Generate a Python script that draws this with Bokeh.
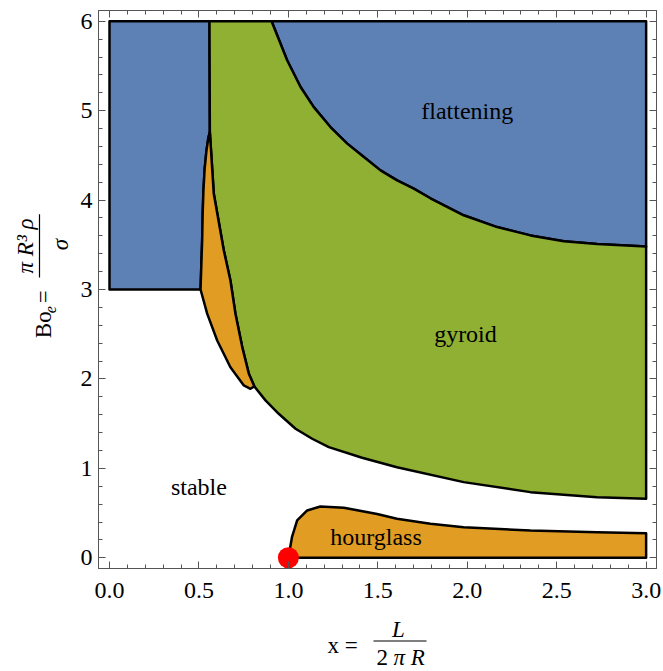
import numpy as np
from bokeh.plotting import figure
from bokeh.layouts import column, row
from bokeh.models import (Range1d, LinearAxis, FixedTicker, PrintfTickFormatter,
                          CustomJSTickFormatter)
from bokeh.core.properties import value
from bokeh.embed import file_html
from bokeh.resources import INLINE

# ---------------- data ----------------
# left edge of the orange sliver (boundary with the left blue block), bottom -> tip
sliver_left_x = [0.509, 0.513, 0.518, 0.521, 0.525, 0.532, 0.542, 0.553, 0.561]
sliver_left_y = [3.00, 3.25, 3.55, 3.85, 4.10, 4.35, 4.55, 4.70, 4.76]
# right edge of the sliver (boundary with gyroid), tip -> junction
sliver_right_x = [0.561, 0.583, 0.639, 0.676, 0.704, 0.742, 0.779, 0.810]
sliver_right_y = [4.76, 4.07, 3.437, 3.10, 2.73, 2.356, 2.058, 1.916]
# lower edge of the sliver (boundary with stable), (0.509,3) -> junction
sliver_bottom_x = [0.509, 0.546, 0.602, 0.676, 0.751, 0.788, 0.810]
sliver_bottom_y = [3.00, 2.73, 2.43, 2.13, 1.927, 1.89, 1.916]
# vertical wall between left blue block and gyroid
wall_x = [0.559, 0.561]
wall_y = [6.0, 4.76]
# gyroid / flattening boundary
gyroid_upper_x = [0.906, 0.993, 1.068, 1.142, 1.235, 1.329, 1.422, 1.515, 1.608,
                  1.701, 1.794, 1.98, 2.167, 2.353, 2.54, 2.726, 3.0]
gyroid_upper_y = [6.0, 5.563, 5.264, 5.040, 4.817, 4.631, 4.481, 4.332, 4.220,
                  4.128, 4.02, 3.83, 3.698, 3.605, 3.54, 3.51, 3.48]
# gyroid / stable boundary
gyroid_lower_x = [0.810, 0.872, 0.946, 1.04, 1.133, 1.226, 1.412, 1.607, 1.98,
                  2.353, 2.726, 3.0]
gyroid_lower_y = [1.916, 1.76, 1.61, 1.443, 1.331, 1.237, 1.119, 1.013, 0.846,
                  0.734, 0.678, 0.66]
# hourglass upper boundary
hourglass_x = [1.0, 1.02, 1.049, 1.105, 1.179, 1.31, 1.496, 1.607, 1.794, 1.98,
               2.353, 2.726, 3.0]
hourglass_y = [0.0, 0.23, 0.417, 0.529, 0.574, 0.56, 0.49, 0.436, 0.38, 0.342,
               0.305, 0.286, 0.275]
# domain limits
x_min, x_max = 0.0, 3.0
y_blue_bottom, y_top = 3.0, 6.0
# critical point
crit_x = [1.0]
crit_y = [0.0]
# region names (baseline positions)
region_names = ["flattening", "gyroid", "stable", "hourglass"]
region_x = [2.0, 1.99, 0.50, 1.49]
region_y = [4.91, 2.41, 0.70, 0.14]
# ticks
x_major = [0.0, 0.5, 1.0, 1.5, 2.0, 2.5, 3.0]
x_minor = [round(0.1 * i, 1) for i in range(-1, 32)]
y_major = [0, 1, 2, 3, 4, 5, 6]
y_minor = [round(0.2 * i, 1) for i in range(-1, 32)]

BLUE = "#5E81B5"
GREEN = "#8FB032"
ORANGE = "#E19C24"
FONT = "Liberation Serif"
FRAME = "#555555"

# ---------------- main plot ----------------
p = figure(width=591, height=608, output_backend="svg", toolbar_location=None,
           x_range=Range1d(-0.0615, 3.058), y_range=Range1d(-0.12, 6.12),
           x_axis_location=None, y_axis_location=None)
p.min_border_left = 26
p.min_border_right = 7
p.min_border_top = 10
p.min_border_bottom = 40
p.grid.visible = False
p.outline_line_color = FRAME
p.background_fill_color = "white"
p.border_fill_color = "white"


def style_axis(ax, labels):
    ax.axis_line_color = FRAME
    ax.major_tick_line_color = FRAME
    ax.minor_tick_line_color = FRAME
    ax.major_tick_in = 7
    ax.major_tick_out = 0
    ax.minor_tick_in = 4
    ax.minor_tick_out = 0
    if labels:
        ax.major_label_text_font = FONT
        ax.major_label_text_font_size = "24px"
        ax.major_label_text_color = "black"
    else:
        ax.formatter = CustomJSTickFormatter(code="return ''")
        ax.major_label_text_font_size = "0px"
        ax.major_label_standoff = 0


bx = LinearAxis(ticker=FixedTicker(ticks=x_major, minor_ticks=x_minor),
                formatter=PrintfTickFormatter(format="%.1f"))
style_axis(bx, True)
bx.major_label_standoff = 14
p.add_layout(bx, "below")
ly = LinearAxis(ticker=FixedTicker(ticks=y_major, minor_ticks=y_minor),
                formatter=PrintfTickFormatter(format="%d"))
style_axis(ly, True)
ly.major_label_standoff = 6
p.add_layout(ly, "left")
tx = LinearAxis(ticker=FixedTicker(ticks=x_major, minor_ticks=x_minor))
style_axis(tx, False)
p.add_layout(tx, "above")
ry = LinearAxis(ticker=FixedTicker(ticks=y_major, minor_ticks=y_minor))
style_axis(ry, False)
p.add_layout(ry, "right")

line_kw = dict(line_color="black", line_width=2.5, line_join="round")

# left blue block
lb_x = [x_min, x_min] + wall_x + sliver_left_x[::-1]
lb_y = [y_blue_bottom, y_top] + wall_y + sliver_left_y[::-1]
p.patch(lb_x, lb_y, fill_color=BLUE, **line_kw)

# right blue (flattening) block
rb_x = gyroid_upper_x + [x_max]
rb_y = gyroid_upper_y + [y_top]
p.patch(rb_x, rb_y, fill_color=BLUE, **line_kw)

# gyroid
g_x = wall_x[:1] + gyroid_upper_x + gyroid_lower_x[::-1] + sliver_right_x[::-1]
g_y = wall_y[:1] + gyroid_upper_y + gyroid_lower_y[::-1] + sliver_right_y[::-1]
p.patch(g_x, g_y, fill_color=GREEN, **line_kw)

# orange sliver
s_x = sliver_left_x + sliver_right_x[1:] + sliver_bottom_x[::-1][1:]
s_y = sliver_left_y + sliver_right_y[1:] + sliver_bottom_y[::-1][1:]
p.patch(s_x, s_y, fill_color=ORANGE, **line_kw)

# hourglass
h_x = hourglass_x + [x_max]
h_y = hourglass_y + [0.0]
p.patch(h_x, h_y, fill_color=ORANGE, **line_kw)

# critical point
p.scatter(crit_x, crit_y, size=21, fill_color="red", line_color=None)

# region names: middle of text sits 8 px above the read baseline
p.text(region_x, region_y, text=region_names, text_font=value(FONT),
       text_font_size="24px", text_align="center", text_baseline="middle",
       y_offset=-8, text_color="black")


# ---------------- axis-label panels (coordinates = page pixels) ----------------
def blank_fig(w, h, xr, yr):
    f = figure(width=w, height=h, output_backend="svg", toolbar_location=None,
               x_range=Range1d(*xr), y_range=Range1d(*yr),
               x_axis_location=None, y_axis_location=None)
    f.min_border = 0
    f.grid.visible = False
    f.outline_line_color = None
    f.background_fill_color = "white"
    f.border_fill_color = "white"
    return f


def txt(f, x, y, s, angle=0.0, align="left", size="23px", style="normal"):
    f.text([x], [y], text=[s], angle=angle, text_align=align,
           text_baseline="middle", text_font=value(FONT),
           text_font_size=size, text_font_style=style, text_color="black")


# y label panel: page x 0..72, page y 0..608 (y stored as -page_y)
yl = blank_fig(72, 608, (0, 72), (-608, 0))
a = np.pi / 2
txt(yl, 42.5, -357, "Bo", angle=a)
txt(yl, 49.5, -330, "e", angle=a, size="16px", style="italic")
txt(yl, 42.5, -319, "=", angle=a)
txt(yl, 24.5, -256.5, "π R³ ρ", angle=a, align="center", style="italic")
yl.segment(x0=[39], y0=[-222], x1=[39], y1=[-291], line_color="black", line_width=1.2)
txt(yl, 59.5, -255, "σ", angle=a, align="center", style="italic")

# x label panel: page x 0..663, page y 608..671
xl = blank_fig(663, 63, (0, 663), (-671, -608))
txt(xl, 327, -644.5, "x =")
txt(xl, 398, -628.5, "L", align="center", style="italic")
xl.segment(x0=[373], y0=[-640.5], x1=[426], y1=[-640.5], line_color="black", line_width=1.2)
txt(xl, 376, -656.5, "2")
txt(xl, 393, -656.5, "π R", style="italic")

layout = column(row(yl, p), xl)
open("out.html", "w").write(file_html(layout, INLINE))
